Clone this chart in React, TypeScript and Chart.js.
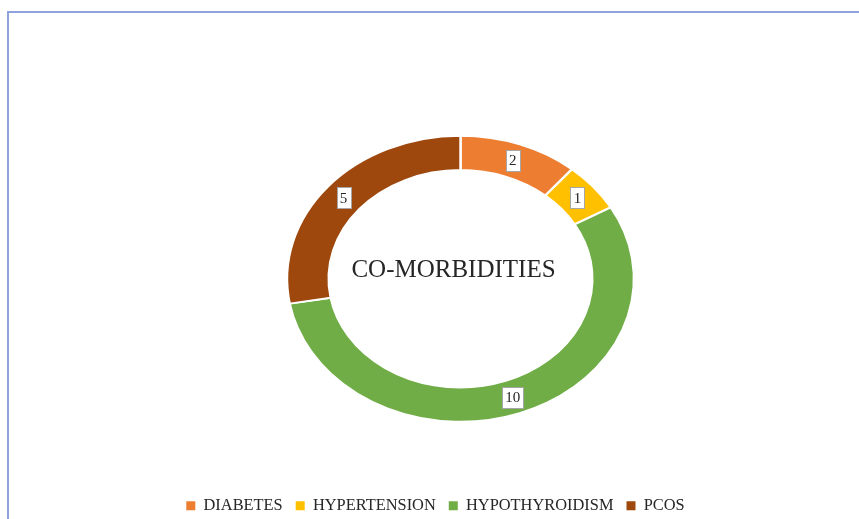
import React, { useEffect, useRef } from 'react';
import { Chart, registerables } from 'chart.js';

Chart.register(...registerables);

const categories = ['DIABETES', 'HYPERTENSION', 'HYPOTHYROIDISM', 'PCOS'];
const values = [2, 1, 10, 5];
const colors = ['#ED7D31', '#FFC000', '#70AD47', '#9E480E'];
const centerTitle = 'CO-MORBIDITIES';

const X_STRETCH = 1.213;
const SHIFT_X = 25;
const SERIF = '"Liberation Serif", "Times New Roman", serif';

function centerX(chart: any) {
  const ca = chart.chartArea;
  return (ca.left + ca.right) / 2;
}

function mapX(chart: any, x: number) {
  const cx = centerX(chart);
  return cx + SHIFT_X + (x - cx) * X_STRETCH;
}

const ellipsePlugin = {
  id: 'ellipseDonut',
  beforeDatasetsDraw(chart: any) {
    const ctx = chart.ctx;
    const cx = centerX(chart);
    ctx.save();
    ctx.translate(cx + SHIFT_X, 0);
    ctx.scale(X_STRETCH, 1);
    ctx.translate(-cx, 0);
  },
  afterDatasetsDraw(chart: any) {
    const ctx = chart.ctx;
    ctx.restore();
    const meta = chart.getDatasetMeta(0);
    ctx.save();
    ctx.font = '15px ' + SERIF;
    ctx.textAlign = 'center';
    ctx.textBaseline = 'middle';
    meta.data.forEach((arc: any, i: number) => {
      const p = arc.tooltipPosition(false);
      const x = mapX(chart, p.x);
      const y = p.y;
      const text = String(values[i]);
      const w = Math.round(ctx.measureText(text).width + 6);
      const h = 21;
      const bx = Math.round(x - w / 2) + 0.5;
      const by = Math.round(y - h / 2) + 0.5;
      ctx.fillStyle = '#ffffff';
      ctx.fillRect(bx, by, w, h);
      ctx.strokeStyle = '#a6a6a6';
      ctx.lineWidth = 1;
      ctx.strokeRect(bx, by, w, h);
      ctx.fillStyle = '#262626';
      ctx.fillText(text, x, y + 1);
    });
    if (meta.data.length) {
      const arc0 = meta.data[0];
      ctx.font = '25px ' + SERIF;
      ctx.fillStyle = '#262626';
      ctx.fillText(centerTitle, mapX(chart, arc0.x) - 7, arc0.y - 8);
    }
    ctx.restore();
  },
};

export default function App() {
  const ref = useRef<HTMLCanvasElement | null>(null);

  useEffect(() => {
    if (!ref.current) return;
    const chart = new Chart(ref.current, {
      type: 'doughnut',
      data: {
        labels: categories,
        datasets: [
          {
            data: values,
            backgroundColor: colors,
            borderColor: '#ffffff',
            borderWidth: 2,
          },
        ],
      },
      options: {
        responsive: false,
        animation: false,
        radius: 143,
        cutout: '76%',
        layout: { padding: { left: 12, right: 0, top: 73, bottom: -5 } },
        plugins: {
          tooltip: { enabled: false },
          legend: {
            position: 'bottom',
            labels: {
              boxWidth: 9,
              boxHeight: 9,
              padding: 13,
              color: '#262626',
              font: { family: SERIF, size: 16.4 },
              generateLabels: (chart: any) =>
                Chart.overrides.doughnut.plugins.legend.labels
                  .generateLabels(chart)
                  .map((item: any) => ({ ...item, lineWidth: 0, strokeStyle: item.fillStyle })),
            },
          },
        },
      } as any,
      plugins: [ellipsePlugin],
    });
    return () => chart.destroy();
  }, []);

  return (
    <div style={{ position: 'absolute', left: 0, top: 0, width: 859, height: 519, overflow: 'hidden', background: '#fff' }}>
      <canvas ref={ref} width={859} height={519} style={{ position: 'absolute', left: 0, top: 0 }} />
      <div
        style={{
          position: 'absolute',
          left: 7,
          top: 11,
          width: 860,
          height: 520,
          borderTop: '2px solid #8ea2dc',
          borderLeft: '2px solid #8ea2dc',
          pointerEvents: 'none',
        }}
      />
    </div>
  );
}
